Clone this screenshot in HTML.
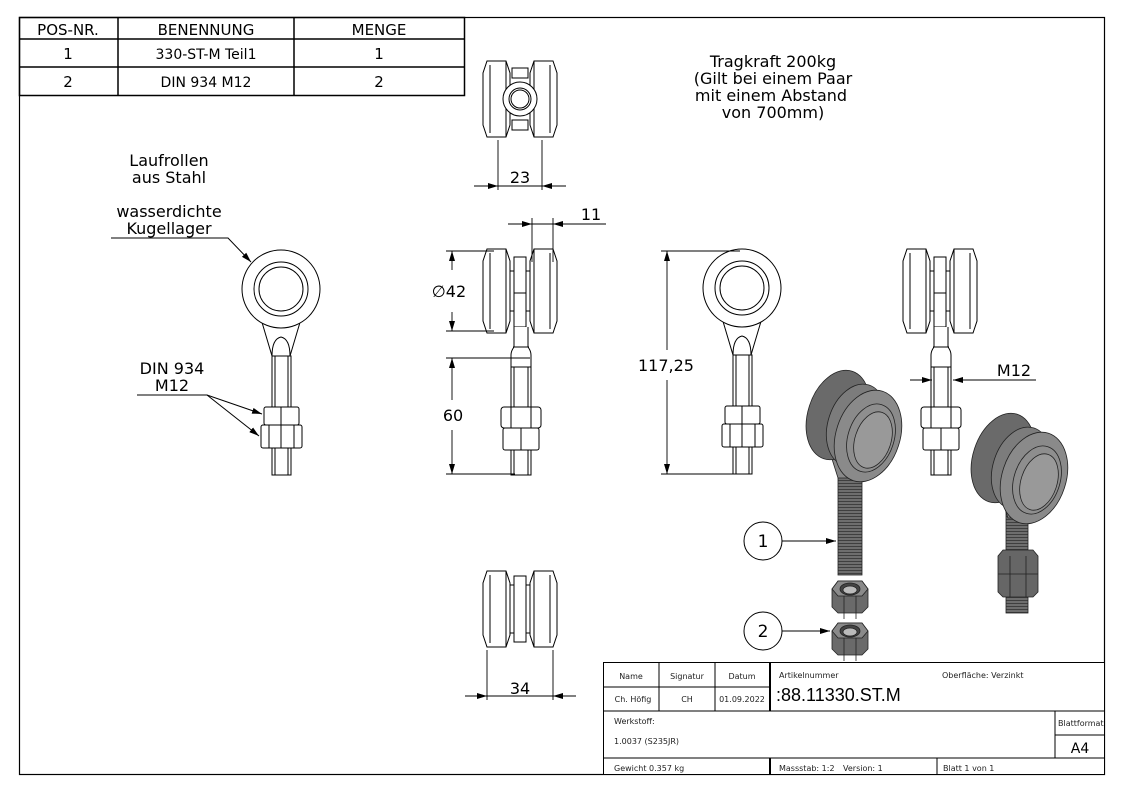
<!DOCTYPE html>
<html><head><meta charset="utf-8"><style>
html,body{margin:0;padding:0;background:#fff;}
svg{display:block;font-family:"DejaVu Sans","Liberation Sans",sans-serif;}
</style></head><body>
<svg width="1123" height="794" viewBox="0 0 1123 794" xmlns="http://www.w3.org/2000/svg">
<defs>
<marker id="ar" markerWidth="10" markerHeight="6" refX="10" refY="3" orient="auto" markerUnits="userSpaceOnUse"><path d="M0,0 L10,3 L0,6z" fill="#000"/></marker>
<pattern id="thr" width="4" height="3" patternUnits="userSpaceOnUse"><rect width="4" height="3" fill="#6e6e6e"/><line x1="0" y1="0.5" x2="4" y2="0.5" stroke="#333" stroke-width="0.8"/></pattern>
<g id="front" fill="#fff" stroke="#000" stroke-width="1">
  <path d="M-20,30 L-9,67 L9,67 L20,30"/>
  <path d="M-9,67 Q-9,50 0,48 Q9,50 9,67" />
  <circle cx="0" cy="0" r="39"/>
  <circle cx="0" cy="0" r="27"/>
  <circle cx="0" cy="0" r="22"/>
  <rect x="-9" y="67" width="19" height="51"/>
  <line x1="-6" y1="67" x2="-6" y2="118"/><line x1="7" y1="67" x2="7" y2="118"/>
  <rect x="-17" y="118" width="35" height="18" rx="2"/>
  <line x1="0" y1="118" x2="0" y2="136"/>
  <rect x="-20" y="136" width="41" height="23" rx="2"/>
  <line x1="-12" y1="136" x2="-12" y2="159"/><line x1="13" y1="136" x2="13" y2="159"/><line x1="0" y1="136" x2="0" y2="159"/>
  <rect x="-9" y="159" width="19" height="27"/>
  <line x1="-6" y1="159" x2="-6" y2="186"/><line x1="7" y1="159" x2="7" y2="186"/>
</g>
<g id="side" fill="#fff" stroke="#000" stroke-width="1">
  <path d="M-33,-42 L-14,-42 L-10,-30 L-10,30 L-14,42 L-33,42 L-37,30 L-37,-30z"/>
  <line x1="-30" y1="-38" x2="-30" y2="38"/><line x1="-14" y1="-42" x2="-14" y2="42"/>
  <path d="M33,-42 L14,-42 L10,-30 L10,30 L14,42 L33,42 L37,30 L37,-30z"/>
  <line x1="30" y1="-38" x2="30" y2="38"/><line x1="14" y1="-42" x2="14" y2="42"/>
  <rect x="-10" y="-20" width="4" height="40"/><rect x="6" y="-20" width="4" height="40"/>
  <rect x="-6" y="-34" width="12" height="70"/>
  <line x1="-6" y1="2" x2="6" y2="2"/>
  <path d="M-6,36 L-6,56 Q-9,60 -9,64 L-9,76 L11,76 L11,64 Q11,60 8,56 L8,36"/>
  <line x1="-7" y1="56" x2="9" y2="56"/>
  <rect x="-9" y="76" width="20" height="108"/>
  <line x1="-6" y1="76" x2="-6" y2="184"/><line x1="8" y1="76" x2="8" y2="184"/>
  <rect x="-19" y="116" width="40" height="21" rx="3"/>
  <line x1="-9" y1="116" x2="-9" y2="137"/><line x1="11" y1="116" x2="11" y2="137"/>
  <rect x="-17" y="137" width="36" height="22" rx="2"/>
  <line x1="1" y1="137" x2="1" y2="159"/>
</g>
<g id="topw" fill="#fff" stroke="#000" stroke-width="1">
  <path d="M-33,-38 L-14,-38 L-10,-26 L-10,26 L-14,38 L-33,38 L-37,26 L-37,-26z"/>
  <line x1="-30" y1="-34" x2="-30" y2="34"/><line x1="-14" y1="-38" x2="-14" y2="38"/>
  <path d="M33,-38 L14,-38 L10,-26 L10,26 L14,38 L33,38 L37,26 L37,-26z"/>
  <line x1="30" y1="-34" x2="30" y2="34"/><line x1="14" y1="-38" x2="14" y2="38"/>
</g>
<g id="nut" stroke="#222" stroke-width="0.8">
  <path d="M-18,4 L-12,-4 h24 l6,8 v18 l-6,6 h-24 l-6,-6z" fill="#6a6a6a"/>
  <path d="M-18,4 L-12,-4 h24 l6,8 l-6,7 h-24z" fill="#8a8a8a"/>
  <ellipse cx="0" cy="4" rx="10" ry="6" fill="#444"/>
  <ellipse cx="0" cy="5" rx="7" ry="4" fill="#bbb"/>
  <line x1="-6" y1="11" x2="-6" y2="34"/><line x1="6" y1="11" x2="6" y2="34"/>
</g>
</defs>

<rect x="19.5" y="17.5" width="1085" height="757" fill="none" stroke="#000" stroke-width="1.2"/>

<g stroke="#000" stroke-width="1.5" fill="none">
<rect x="19.5" y="17.5" width="445" height="78"/>
<line x1="19" y1="39" x2="464" y2="39"/><line x1="19" y1="67" x2="464" y2="67"/>
<line x1="118" y1="17" x2="118" y2="95"/><line x1="294" y1="17" x2="294" y2="95"/>
</g>
<g font-size="15" text-anchor="middle" fill="#000">
<text x="68" y="35">POS-NR.</text><text x="206" y="35">BENENNUNG</text><text x="379" y="35">MENGE</text>
<text x="68" y="59">1</text><text x="206" y="59" font-size="14">330-ST-M Teil1</text><text x="379" y="59">1</text>
<text x="68" y="87">2</text><text x="206" y="87" font-size="14">DIN 934 M12</text><text x="379" y="87">2</text>
</g>

<g font-size="16" text-anchor="middle" fill="#000">
<text x="773" y="67">Tragkraft 200kg</text>
<text x="773" y="84">(Gilt bei einem Paar</text>
<text x="771" y="101">mit einem Abstand</text>
<text x="773" y="118">von 700mm)</text>
<text x="169" y="166">Laufrollen</text>
<text x="169" y="183">aus Stahl</text>
<text x="169" y="217">wasserdichte</text>
<text x="169" y="234">Kugellager</text>
<text x="172" y="374">DIN 934</text>
<text x="172" y="391">M12</text>
</g>
<g stroke="#000" stroke-width="1" fill="none">
<polyline points="111,238 228,238 251,262" marker-end="url(#ar)"/>
<polyline points="137,395 207,395 262,414" marker-end="url(#ar)"/>
<line x1="207" y1="395" x2="259" y2="436" marker-end="url(#ar)"/>
</g>

<use href="#front" x="281" y="289"/>
<use href="#front" x="742" y="288"/>
<use href="#side" x="520" y="291"/>
<use href="#side" x="940" y="291"/>
<use href="#topw" x="520" y="99"/>
<g fill="#fff" stroke="#000"><rect x="512" y="68" width="16" height="10"/><rect x="512" y="120" width="16" height="10"/>
<circle cx="520" cy="99" r="17"/><circle cx="520" cy="99" r="11"/><circle cx="520" cy="99" r="9"/></g>
<use href="#topw" x="520" y="609"/>
<g fill="#fff" stroke="#000"><rect x="510" y="585" width="4" height="48"/><rect x="526" y="585" width="4" height="48"/><rect x="514" y="576" width="12" height="66"/></g>

<g stroke="#000" stroke-width="0.9" fill="none">
<line x1="498" y1="140" x2="498" y2="190"/><line x1="542" y1="140" x2="542" y2="190"/>
<line x1="474" y1="186" x2="498" y2="186" marker-end="url(#ar)"/><line x1="566" y1="186" x2="542" y2="186" marker-end="url(#ar)"/>
<line x1="498" y1="186" x2="542" y2="186"/>
<line x1="487" y1="650" x2="487" y2="700"/><line x1="553" y1="650" x2="553" y2="700"/>
<line x1="465" y1="696" x2="576" y2="696"/>
<line x1="470" y1="696" x2="487" y2="696" marker-end="url(#ar)"/><line x1="570" y1="696" x2="553" y2="696" marker-end="url(#ar)"/>
<line x1="532" y1="218" x2="532" y2="262"/><line x1="553" y1="218" x2="553" y2="262"/>
<line x1="508" y1="224" x2="532" y2="224" marker-end="url(#ar)"/><line x1="606" y1="224" x2="553" y2="224" marker-end="url(#ar)"/>
<line x1="532" y1="224" x2="553" y2="224"/>
<line x1="446" y1="251" x2="494" y2="251"/><line x1="446" y1="331" x2="494" y2="331"/>
<line x1="452" y1="270" x2="452" y2="251" marker-end="url(#ar)"/><line x1="452" y1="312" x2="452" y2="331" marker-end="url(#ar)"/>
<line x1="446" y1="358" x2="530" y2="358"/><line x1="446" y1="474" x2="515" y2="474"/>
<line x1="452" y1="400" x2="452" y2="358" marker-end="url(#ar)"/><line x1="452" y1="430" x2="452" y2="474" marker-end="url(#ar)"/>
<line x1="661" y1="251" x2="740" y2="251"/><line x1="661" y1="474" x2="738" y2="474"/>
<line x1="667" y1="350" x2="667" y2="251" marker-end="url(#ar)"/><line x1="667" y1="380" x2="667" y2="474" marker-end="url(#ar)"/>
<line x1="910" y1="380" x2="932" y2="380" marker-end="url(#ar)"/><line x1="1036" y1="380" x2="953" y2="380" marker-end="url(#ar)"/>
</g>
<g font-size="16" fill="#000" text-anchor="middle">
<text x="520" y="183">23</text><text x="520" y="694">34</text><text x="591" y="220">11</text>
<text x="449" y="297">∅42</text><text x="453" y="421">60</text><text x="666" y="371">117,25</text>
<text x="1014" y="376">M12</text>
</g>

<!-- 3D iso 1 -->
<g stroke="#222" stroke-width="0.8">
<rect x="838" y="470" width="24" height="105" fill="url(#thr)"/>
<path d="M826,440 L838,478 L862,478 L872,448z" fill="#888"/>
<ellipse cx="838" cy="415" rx="30" ry="46" fill="#6a6a6a" transform="rotate(18 838 415)"/>
<ellipse cx="856" cy="425" rx="28" ry="42" fill="#7c7c7c" transform="rotate(18 856 425)"/>
<ellipse cx="868" cy="436" rx="32" ry="47" fill="#8a8a8a" transform="rotate(18 868 436)"/>
<ellipse cx="871" cy="438" rx="23" ry="35" fill="#8e8e8e" transform="rotate(18 871 438)"/>
<ellipse cx="873" cy="440" rx="18" ry="29" fill="#999" transform="rotate(18 873 440)"/>
</g>
<use href="#nut" x="850" y="585"/>
<use href="#nut" x="850" y="627"/>
<!-- 3D iso 2 -->
<g stroke="#222" stroke-width="0.8">
<rect x="1006" y="505" width="22" height="108" fill="url(#thr)"/>
<path d="M996,482 L1008,518 L1028,518 L1036,490z" fill="#888"/>
<ellipse cx="1003" cy="458" rx="30" ry="46" fill="#6a6a6a" transform="rotate(18 1003 458)"/>
<ellipse cx="1021" cy="468" rx="28" ry="42" fill="#7c7c7c" transform="rotate(18 1021 468)"/>
<ellipse cx="1034" cy="478" rx="32" ry="47" fill="#8a8a8a" transform="rotate(18 1034 478)"/>
<ellipse cx="1037" cy="480" rx="23" ry="35" fill="#8e8e8e" transform="rotate(18 1037 480)"/>
<ellipse cx="1039" cy="482" rx="18" ry="29" fill="#999" transform="rotate(18 1039 482)"/>
<path d="M998,556 l5,-6 h30 l5,6 v36 l-5,5 h-30 l-5,-5z" fill="#666"/>
<line x1="998" y1="574" x2="1038" y2="574"/>
<line x1="1010" y1="556" x2="1010" y2="597"/><line x1="1026" y1="556" x2="1026" y2="597"/>
</g>
<g stroke="#000" fill="#fff" stroke-width="1">
<circle cx="763" cy="541" r="19"/><circle cx="763" cy="631" r="19"/>
<line x1="782" y1="541" x2="836" y2="541" marker-end="url(#ar)"/>
<line x1="782" y1="631" x2="830" y2="631" marker-end="url(#ar)"/>
</g>
<g font-size="17" text-anchor="middle"><text x="763" y="547">1</text><text x="763" y="637">2</text></g>

<g stroke="#000" stroke-width="1" fill="#fff">
<rect x="603.5" y="662.5" width="501" height="112"/>
</g>
<g stroke="#000" stroke-width="1">
<line x1="603" y1="687" x2="770" y2="687"/>
<line x1="603" y1="711" x2="1105" y2="711"/>
<line x1="603" y1="758" x2="1105" y2="758"/>
<line x1="659" y1="662" x2="659" y2="711"/><line x1="715" y1="662" x2="715" y2="711"/>
<line x1="770" y1="662" x2="770" y2="711" stroke-width="2"/>
<line x1="1055" y1="711" x2="1055" y2="758"/><line x1="1055" y1="735" x2="1105" y2="735"/>
<line x1="770" y1="758" x2="770" y2="775" stroke-width="2"/><line x1="937" y1="758" x2="937" y2="775"/>
</g>
<g font-size="8" fill="#222">
<text x="631" y="679" text-anchor="middle">Name</text>
<text x="687" y="679" text-anchor="middle">Signatur</text>
<text x="742" y="679" text-anchor="middle">Datum</text>
<text x="633" y="702" text-anchor="middle">Ch. Höfig</text>
<text x="687" y="702" text-anchor="middle">CH</text>
<text x="742" y="702" text-anchor="middle">01.09.2022</text>
<text x="779" y="678">Artikelnummer</text>
<text x="942" y="678">Oberfläche:  Verzinkt</text>
<text x="614" y="724">Werkstoff:</text>
<text x="614" y="744">1.0037 (S235JR)</text>
<text x="1058" y="726">Blattformat</text>
<text x="614" y="771">Gewicht 0.357 kg</text>
<text x="779" y="771">Massstab: 1:2</text>
<text x="843" y="771">Version: 1</text>
<text x="943" y="771">Blatt 1 von 1</text>
</g>
<text x="776" y="701" font-size="18" font-family="Liberation Sans, sans-serif">:88.11330.ST.M</text>
<text x="1080" y="753" font-size="14" text-anchor="middle">A4</text>
</svg>
</body></html>
